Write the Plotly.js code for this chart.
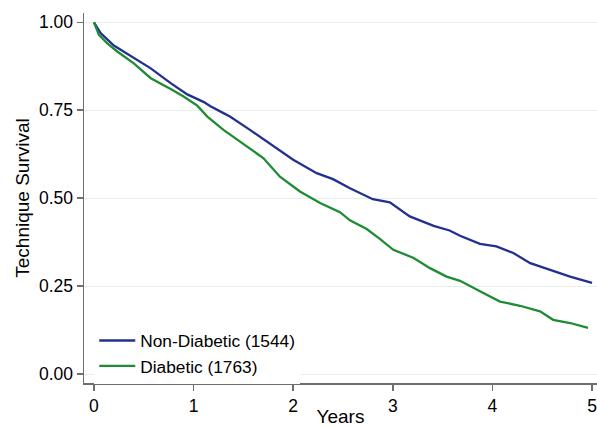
<!DOCTYPE html>
<html>
<head>
<meta charset="utf-8">
<script src="https://cdn.plot.ly/plotly-3.0.1.min.js"></script>
<style>html,body{margin:0;padding:0;background:#fff}#chart{width:597px;height:427px}</style>
</head>
<body>
<div id="chart"></div>
<script>
// Kaplan-Meier technique survival
const nonDiabeticYears = [0, 0.067, 0.2, 0.368, 0.57, 0.77, 0.937, 1.104, 1.165, 1.305, 1.365, 1.566, 1.80, 2.0, 2.236, 2.40, 2.57, 2.60, 2.80, 2.97, 3.17, 3.41, 3.57, 3.675, 3.875, 4.04, 4.21, 4.38, 4.58, 4.78, 5.0];
const nonDiabeticSurv  = [1.0, 0.969, 0.934, 0.905, 0.869, 0.827, 0.795, 0.773, 0.762, 0.741, 0.732, 0.694, 0.647, 0.609, 0.571, 0.554, 0.528, 0.524, 0.497, 0.488, 0.448, 0.421, 0.408, 0.393, 0.370, 0.363, 0.344, 0.315, 0.296, 0.277, 0.259];
const diabeticYears = [0, 0.05, 0.134, 0.234, 0.40, 0.57, 0.77, 0.90, 1.037, 1.138, 1.30, 1.566, 1.70, 1.867, 2.068, 2.27, 2.47, 2.57, 2.738, 2.87, 3.005, 3.21, 3.373, 3.54, 3.675, 3.875, 4.076, 4.277, 4.478, 4.61, 4.78, 4.96];
const diabeticSurv  = [1.0, 0.964, 0.940, 0.917, 0.883, 0.841, 0.810, 0.789, 0.763, 0.732, 0.694, 0.642, 0.614, 0.561, 0.519, 0.486, 0.460, 0.437, 0.412, 0.384, 0.353, 0.330, 0.301, 0.277, 0.265, 0.235, 0.206, 0.194, 0.178, 0.154, 0.145, 0.131];
const seriesNames = ['Non-Diabetic (1544)', 'Diabetic (1763)'];
const yTickVals = [0, 0.25, 0.5, 0.75, 1];
const xTickVals = [0, 1, 2, 3, 4, 5];

const FONT = 'Liberation Sans, Arial, sans-serif';
const traces = [
  {x: nonDiabeticYears, y: nonDiabeticSurv, name: seriesNames[0], type: 'scatter', mode: 'lines',
   line: {color: '#22308f', width: 2.3}},
  {x: diabeticYears, y: diabeticSurv, name: seriesNames[1], type: 'scatter', mode: 'lines',
   line: {color: '#1f8b33', width: 2.3}}
];
const layout = {
  width: 597, height: 427,
  margin: {l: 84, r: 0, t: 13, b: 44},
  paper_bgcolor: '#fff', plot_bgcolor: '#fff',
  font: {family: FONT, color: '#000', size: 17},
  showlegend: true,
  legend: {x: 0.02, y: -0.002, xanchor: 'left', yanchor: 'bottom', bgcolor: '#fff',
           itemwidth: 36, font: {family: FONT, size: 17.3, color: '#000'}, tracegroupgap: 0},
  xaxis: {
    range: [-0.1, 5.05], tickvals: xTickVals, ticks: 'outside', ticklen: 6, tickwidth: 1.5,
    tickcolor: '#6e6e6e', showline: true, linecolor: '#6e6e6e', linewidth: 1.5,
    showgrid: false, zeroline: false, tickfont: {size: 17.5},
    title: {text: 'Years', font: {size: 19}, standoff: 6}
  },
  yaxis: {
    range: [-0.0256, 1.0264], tickvals: yTickVals, tickformat: '.2f', ticks: 'outside', ticklen: 6,
    tickwidth: 1.5, tickcolor: '#6e6e6e', showline: true, linecolor: '#6e6e6e', linewidth: 1.5,
    showgrid: true, gridcolor: '#e6eeee', gridwidth: 1, zeroline: false, tickfont: {size: 17.5},
    title: {text: 'Technique Survival', font: {size: 19}, standoff: 4}
  }
};
Plotly.newPlot('chart', traces, layout, {displayModeBar: false, staticPlot: true});
</script>
</body>
</html>
